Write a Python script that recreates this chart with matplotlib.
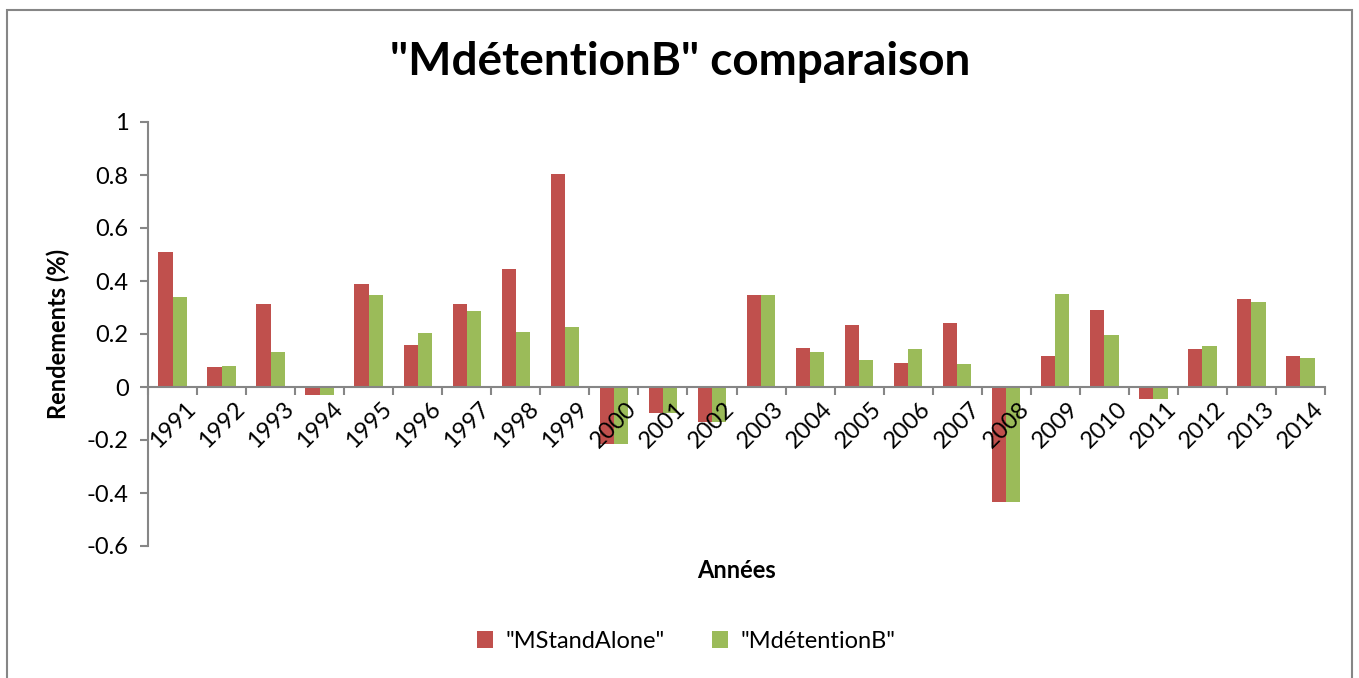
import numpy as np
import matplotlib.pyplot as plt
from matplotlib.patches import Rectangle

years = [str(y) for y in range(1991, 2015)]
standalone = [0.510, 0.077, 0.314, -0.029, 0.387, 0.159, 0.314, 0.446, 0.802, -0.214,
              -0.097, -0.132, 0.349, 0.149, 0.233, 0.092, 0.243, -0.435, 0.116, 0.292,
              -0.044, 0.144, 0.331, 0.116]
detention = [0.340, 0.079, 0.132, -0.029, 0.348, 0.204, 0.287, 0.207, 0.228, -0.214,
             -0.097, -0.132, 0.349, 0.131, 0.101, 0.144, 0.088, -0.435, 0.350, 0.197,
             -0.044, 0.156, 0.321, 0.108]
yticks = [-0.6, -0.4, -0.2, 0, 0.2, 0.4, 0.6, 0.8, 1]
ytick_labels = ['-0.6', '-0.4', '-0.2', '0', '0.2', '0.4', '0.6', '0.8', '1']

plt.rcParams['font.family'] = ['Lato', 'DejaVu Sans']
red = '#C0504D'
green = '#9BBB59'
grey = '#868686'

fig = plt.figure(figsize=(13.59, 6.78), dpi=100)
ax = fig.add_axes([148/1359, 1 - 546/678, (1325-148)/1359, (546-122)/678])

x = np.arange(len(years))
w = 0.29
ax.bar(x - w/2, standalone, w, color=red, label='"MStandAlone"')
ax.bar(x + w/2, detention, w, color=green, label='"MdétentionB"')

ax.set_xlim(-0.5, len(years) - 0.5)
ax.set_ylim(-0.6, 1)
ax.set_yticks(yticks)
ax.set_yticklabels(ytick_labels, fontsize=17)

ax.spines['top'].set_visible(False)
ax.spines['right'].set_visible(False)
ax.spines['bottom'].set_position(('data', 0))
for s in ['left', 'bottom']:
    ax.spines[s].set_color(grey)
    ax.spines[s].set_linewidth(1.5)

# category labels at centres, tick marks between categories
ax.set_xticks(x)
ax.set_xticklabels(years, rotation=45, fontsize=17)
ax.tick_params(axis='x', which='major', length=0, pad=8)
ax.set_xticks(np.arange(-0.5, len(years)), minor=True)
ax.tick_params(axis='x', which='minor', length=6, width=1.5, color=grey, direction='out')
ax.tick_params(axis='y', length=6, width=1.5, color=grey, pad=8)

ax.set_ylabel('Rendements (%)', fontsize=17, fontweight='bold', labelpad=12)
fig.text((148 + 1325) / 2 / 1359, 1 - 570/678, 'Années', fontsize=17, fontweight='bold',
         ha='center', va='center')
fig.text(680/1359, 1 - 62/678, '"MdétentionB" comparaison', fontsize=33, fontweight='bold',
         ha='center', va='center')

fig.legend(loc='center', bbox_to_anchor=(686/1359, 1 - 641/678), ncol=2, frameon=False,
           fontsize=17, handlelength=0.7, handleheight=0.7, columnspacing=2.0, handletextpad=0.5)

fig.patches.append(Rectangle((7/1359, -0.05), (1352-7)/1359, 1.05 - 10/678,
                             transform=fig.transFigure, fill=False, edgecolor=grey, linewidth=1.5))

fig.savefig('out.png', dpi=100)
